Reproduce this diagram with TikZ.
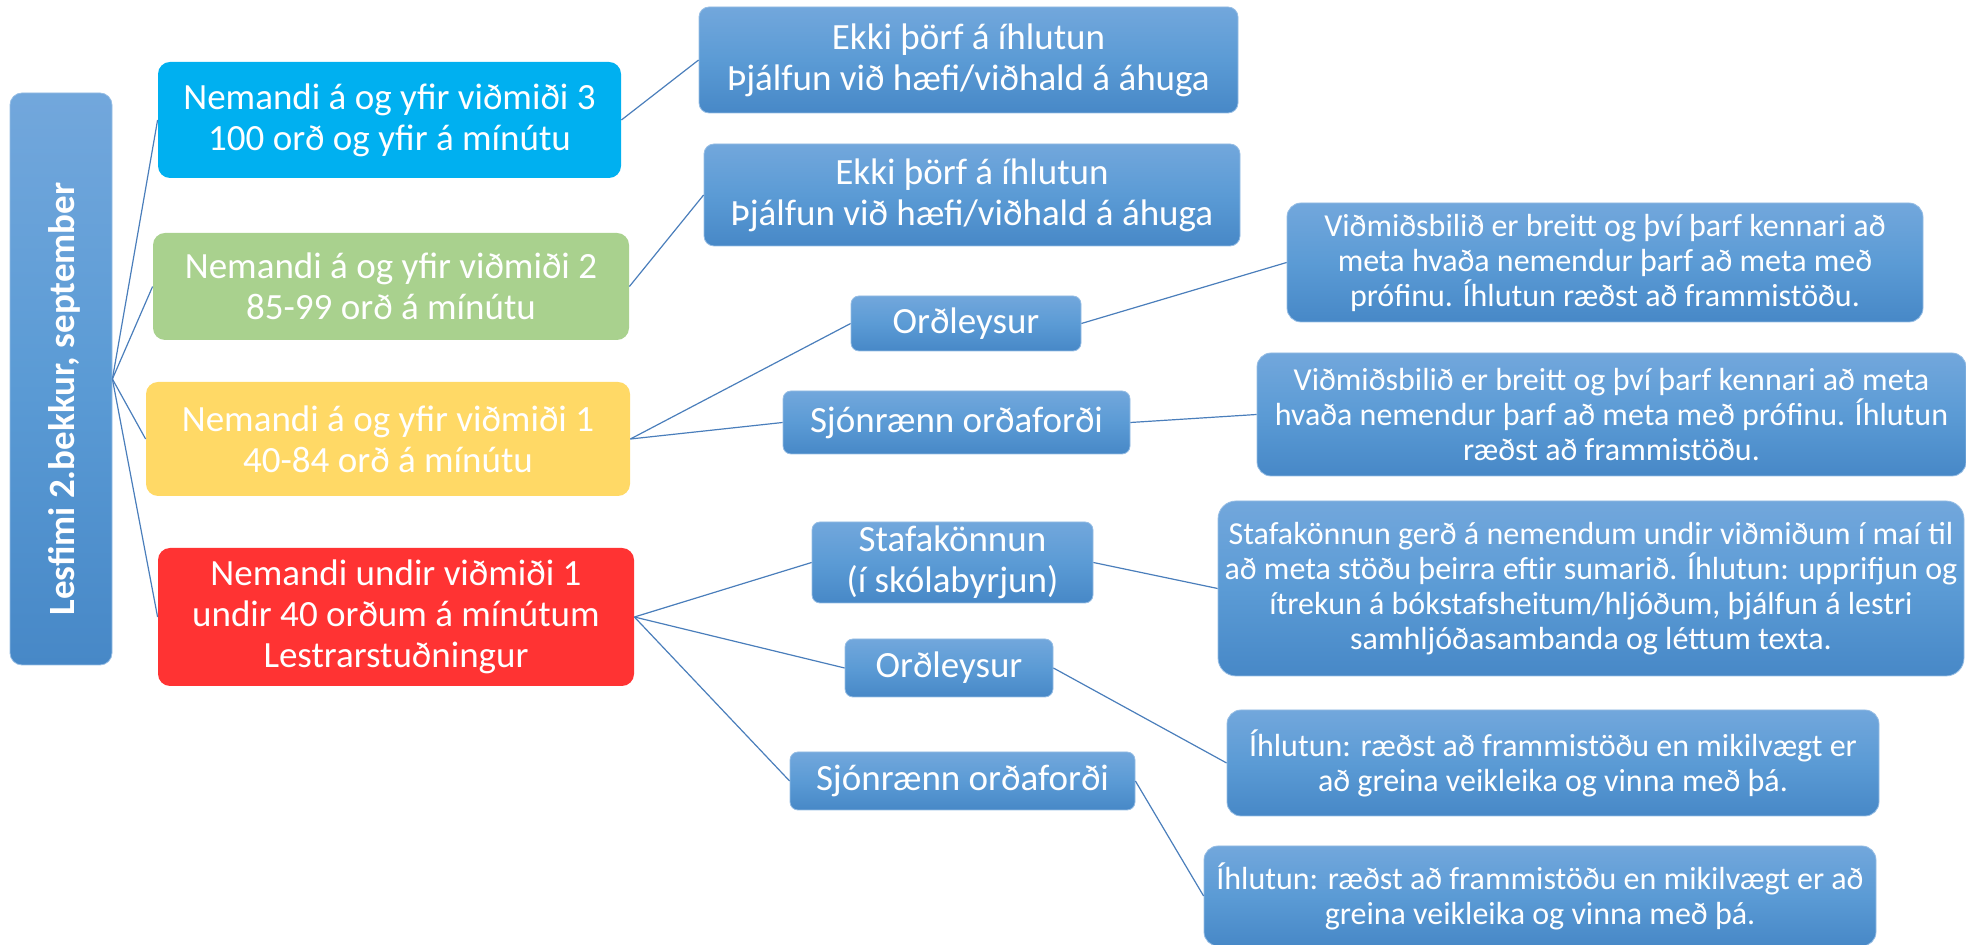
\documentclass[tikz,border=0pt]{standalone}
\usepackage{fontspec}
\setmainfont{Carlito}

\definecolor{boxtop}{RGB}{114,167,220}
\definecolor{boxmid}{RGB}{91,155,213}
\definecolor{boxbot}{RGB}{71,136,199}
\definecolor{boxedge}{RGB}{150,189,228}
\definecolor{linkblue}{RGB}{74,126,187}
\definecolor{lvlblue}{RGB}{0,176,240}
\definecolor{lvlgreen}{RGB}{169,209,142}
\definecolor{lvlyellow}{RGB}{255,217,102}
\definecolor{lvlred}{RGB}{255,51,51}

\begin{document}
\begin{tikzpicture}[x=0.5pt,y=-0.5pt,
    base/.style={rectangle,inner sep=0pt,align=center,text=white},
    big/.style={font=\fontsize{18.5}{20.5}\selectfont},
    small/.style={font=\fontsize{16}{17.5}\selectfont},
    level/.style={base,big,rounded corners=6pt,fill=#1},
    box/.style={base,rounded corners=5pt,draw=boxedge,line width=0.4pt,
      top color=boxtop,bottom color=boxbot,middle color=boxmid},
    link/.style={draw=linkblue,line width=0.6pt}]
    \useasboundingbox (0,0) rectangle (1966,945);

    % root
    \node[box,rounded corners=6pt,minimum width=51pt,minimum height=286pt,
      label={[yshift=-10pt,xshift=1.5pt,rotate=90,text=white,
        font=\bfseries\fontsize{18.5}{20.5}\selectfont]center:{Lesfimi 2.bekkur, september}}]
      (lesfimi) at (61,379) {};

    % vidmid
    \node[level=lvlblue,minimum width=231.5pt,minimum height=58pt] (vid3) at (389.5,120)
      {Nemandi á og yfir viðmiði 3\\100 orð og yfir á mínútu};
    \node[level=lvlgreen,minimum width=238pt,minimum height=53.5pt] (vid2) at (391,286.5)
      {Nemandi á og yfir viðmiði 2\\85-99 orð á mínútu};
    \node[level=lvlyellow,minimum width=242pt,minimum height=57pt] (vid1) at (388,439)
      {Nemandi á og yfir viðmiði 1\\40-84 orð á mínútu};
    \node[level=lvlred,minimum width=238pt,minimum height=69pt] (undir) at (396,617)
      {Nemandi undir viðmiði 1\\undir 40 orðum á mínútum\\Lestrarstuðningur};

    % profin
    \node[box,big,minimum width=269.5pt,minimum height=53pt] (ekki3) at (968.5,60)
      {Ekki þörf á íhlutun\\Þjálfun við hæfi/viðhald á áhuga};
    \node[box,big,minimum width=268pt,minimum height=51pt] (ekki2) at (972,195)
      {Ekki þörf á íhlutun\\Þjálfun við hæfi/viðhald á áhuga};
    \node[box,big,rounded corners=4pt,minimum width=115pt,minimum height=27.5pt] (ordl1) at (966,323.5)
      {Orðleysur};
    \node[box,big,rounded corners=4pt,minimum width=173.5pt,minimum height=31.5pt] (sjon1) at (956.5,422.5)
      {Sjónrænn orðaforði};
    \node[box,big,rounded corners=4pt,minimum width=140.5pt,minimum height=40.5pt] (stafa) at (952.5,562.5)
      {Stafakönnun\\(í skólabyrjun)};
    \node[box,big,rounded corners=4pt,minimum width=104pt,minimum height=29pt] (ordl2) at (949,668)
      {Orðleysur};
    \node[box,big,rounded corners=4pt,minimum width=172.5pt,minimum height=29pt] (sjon2) at (962.5,781)
      {Sjónrænn orðaforði};

    % ihlutun
    \node[box,small,rounded corners=7pt,minimum width=318pt,minimum height=59.5pt] (vidmA) at (1605,262.5)
      {Viðmiðsbilið er breitt og því þarf kennari að\\meta hvaða nemendur þarf að meta með\\prófinu. Íhlutun ræðst að frammistöðu.};
    \node[box,small,rounded corners=7pt,minimum width=354.5pt,minimum height=61.5pt] (vidmB) at (1611.5,414.5)
      {Viðmiðsbilið er breitt og því þarf kennari að meta\\hvaða nemendur þarf að meta með prófinu. Íhlutun\\ræðst að frammistöðu.};
    \node[box,small,rounded corners=9pt,minimum width=373pt,minimum height=87.5pt] (stafaB) at (1591,588.5)
      {Stafakönnun gerð á nemendum undir viðmiðum í maí til\\að meta stöðu þeirra eftir sumarið. Íhlutun: upprifjun og\\ítrekun á bókstafsheitum/hljóðum, þjálfun á lestri\\samhljóðasambanda og léttum texta.};
    \node[box,small,rounded corners=7pt,minimum width=326pt,minimum height=53pt] (ihlutA) at (1553,763)
      {Íhlutun: ræðst að frammistöðu en mikilvægt er\\að greina veikleika og vinna með þá.};
    \node[box,small,rounded corners=7pt,minimum width=336pt,minimum height=50pt] (ihlutB) at (1540,896)
      {Íhlutun: ræðst að frammistöðu en mikilvægt er að\\greina veikleika og vinna með þá.};

    \foreach \n in {vid3,vid2,vid1,undir}
      \draw[link] (lesfimi.east) -- (\n.west);
    \draw[link] (vid3.east) -- (ekki3.west);
    \draw[link] (vid2.east) -- (ekki2.west);
    \draw[link] (vid1.east) -- (ordl1.west);
    \draw[link] (vid1.east) -- (sjon1.west);
    \draw[link] (undir.east) -- (stafa.west);
    \draw[link] (undir.east) -- (ordl2.west);
    \draw[link] (undir.east) -- (sjon2.west);
    \draw[link] (ordl1.east) -- (vidmA.west);
    \draw[link] (sjon1.east) -- (vidmB.west);
    \draw[link] (stafa.east) -- (stafaB.west);
    \draw[link] (ordl2.east) -- (ihlutA.west);
    \draw[link] (sjon2.east) -- (ihlutB.west);
\end{tikzpicture}
\end{document}
